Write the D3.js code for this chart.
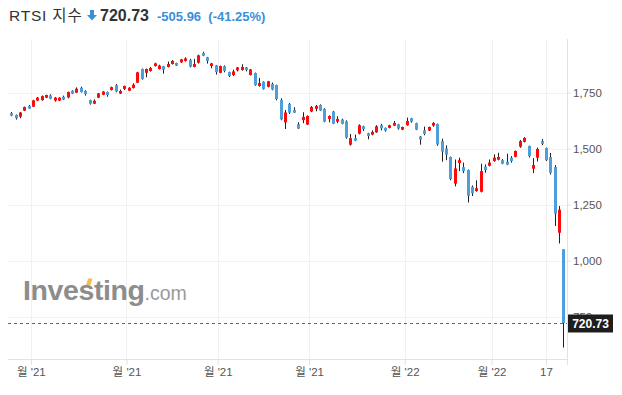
<!DOCTYPE html>
<html lang="ko">
<head>
<meta charset="utf-8">
<title>RTSI 지수</title>
<script src="https://cdn.jsdelivr.net/npm/d3@7"></script>
<style>
  html, body { margin: 0; padding: 0; background: #fff; }
  svg { display: block; font-family: "Liberation Sans", Arial, "Noto Sans CJK KR", sans-serif; }
</style>
</head>
<body>
<svg id="chart" width="622" height="395"></svg>
<script>
// daily candles, Aug 2021 -> 24 Feb 2022
const opens = [
  1658, 1650, 1642, 1669, 1690, 1687, 1714, 1716, 1727, 1737, 1714, 1714, 1731, 1728, 1758, 1749,
  1771, 1757, 1716, 1700, 1727, 1740, 1752, 1761, 1783, 1745, 1766, 1758, 1770, 1794, 1855, 1838,
  1846, 1868, 1855, 1867, 1864, 1877, 1882, 1885, 1891, 1895, 1864, 1883, 1926, 1907, 1868, 1871,
  1838, 1867, 1841, 1828, 1849, 1850, 1862, 1828, 1837, 1779, 1798, 1775, 1788, 1783, 1716, 1617,
  1699, 1672, 1608, 1627, 1607, 1665, 1677, 1694, 1677, 1632, 1665, 1620, 1629, 1621, 1517, 1546,
  1566, 1599, 1568, 1562, 1572, 1604, 1592, 1592, 1602, 1608, 1584, 1604, 1635, 1613, 1553, 1581,
  1580, 1602, 1609, 1533, 1500, 1462, 1343, 1435, 1417, 1404, 1329, 1310, 1307, 1419, 1423, 1444,
  1450, 1448, 1441, 1459, 1463, 1508, 1530, 1511, 1410, 1459, 1533, 1502, 1462, 1417, 1124, 1050
];
const highs = [
  1663, 1652, 1663, 1687, 1694, 1717, 1730, 1737, 1740, 1742, 1730, 1729, 1736, 1754, 1760, 1773,
  1776, 1760, 1718, 1719, 1748, 1756, 1754, 1776, 1788, 1763, 1781, 1774, 1791, 1842, 1857, 1857,
  1864, 1883, 1874, 1869, 1888, 1895, 1883, 1900, 1907, 1900, 1900, 1919, 1932, 1909, 1882, 1873,
  1870, 1871, 1843, 1852, 1864, 1876, 1864, 1855, 1839, 1815, 1800, 1802, 1794, 1785, 1724, 1672,
  1703, 1684, 1617, 1662, 1648, 1690, 1694, 1697, 1680, 1648, 1668, 1644, 1633, 1626, 1565, 1562,
  1608, 1602, 1570, 1581, 1604, 1610, 1594, 1606, 1623, 1610, 1598, 1638, 1637, 1615, 1556, 1598,
  1598, 1618, 1611, 1544, 1514, 1464, 1451, 1459, 1437, 1406, 1335, 1358, 1432, 1429, 1451, 1474,
  1481, 1453, 1477, 1466, 1491, 1538, 1551, 1513, 1457, 1504, 1542, 1504, 1480, 1426, 1243, 1050
];
const lows = [
  1644, 1629, 1635, 1667, 1677, 1685, 1712, 1713, 1725, 1720, 1709, 1712, 1716, 1724, 1743, 1748,
  1750, 1736, 1696, 1698, 1725, 1738, 1731, 1759, 1751, 1743, 1761, 1756, 1768, 1792, 1807, 1818,
  1843, 1866, 1853, 1834, 1862, 1875, 1868, 1882, 1888, 1862, 1862, 1879, 1912, 1879, 1858, 1830,
  1836, 1840, 1819, 1824, 1844, 1848, 1844, 1826, 1780, 1776, 1763, 1773, 1760, 1715, 1626, 1587,
  1654, 1658, 1587, 1613, 1605, 1662, 1666, 1667, 1617, 1617, 1609, 1613, 1608, 1544, 1513, 1533,
  1563, 1578, 1541, 1559, 1570, 1581, 1575, 1590, 1600, 1584, 1582, 1602, 1615, 1582, 1517, 1559,
  1578, 1597, 1512, 1441, 1448, 1358, 1331, 1399, 1390, 1259, 1288, 1307, 1304, 1392, 1420, 1441,
  1447, 1430, 1426, 1437, 1461, 1503, 1527, 1460, 1390, 1442, 1515, 1444, 1384, 1154, 1076, 611
];
const closes = [
  1647, 1635, 1661, 1685, 1678, 1715, 1727, 1734, 1739, 1722, 1727, 1727, 1718, 1752, 1745, 1767,
  1752, 1743, 1700, 1713, 1746, 1754, 1739, 1774, 1755, 1757, 1779, 1771, 1785, 1840, 1810, 1855,
  1859, 1880, 1870, 1852, 1877, 1891, 1870, 1898, 1902, 1865, 1877, 1916, 1914, 1891, 1880, 1841,
  1868, 1846, 1824, 1844, 1862, 1864, 1850, 1853, 1783, 1792, 1766, 1800, 1763, 1721, 1630, 1661,
  1660, 1660, 1589, 1641, 1645, 1685, 1690, 1669, 1620, 1645, 1611, 1632, 1610, 1549, 1546, 1535,
  1604, 1586, 1556, 1574, 1599, 1590, 1580, 1604, 1614, 1589, 1596, 1623, 1620, 1584, 1540, 1565,
  1596, 1614, 1518, 1486, 1472, 1364, 1411, 1448, 1399, 1289, 1300, 1323, 1399, 1404, 1437, 1459,
  1462, 1432, 1428, 1444, 1489, 1533, 1547, 1466, 1426, 1498, 1521, 1448, 1392, 1209, 1226.69, 720.73
];

const priceTicks = [750, 1000, 1250, 1500, 1750];
const dateTickIndex = [4.5, 26.5, 47.5, 68.5, 90.5, 110.5, 123];
const dateTickLabels = ["월 '21", "월 '21", "월 '21", "월 '21", "월 '22", "월 '22", "17"];

const titleName = "RTSI 지수";
const lastPrice = 720.73;
const change = -505.96;
const changePct = -41.25;

const UP = "#ff0a0a";
const DOWN = "#4c9fdb";
const WICK = "#222";
const BLUE_TEXT = "#3a8fd9";

// plain hyphen for negatives, like the source widget
const locale = d3.formatLocale({ decimal: ".", thousands: ",", grouping: [3], currency: ["", ""], minus: "-" });
const fmt2 = locale.format(".2f");
const fmtInt = locale.format(",");

// ── Layout ───────────────────────────────────────────────────────────────────

const plot = { left: 8, right: 567, top: 39, bottom: 359 };
const candles = opens.map((o, i) => ({ i, o, h: highs[i], l: lows[i], c: closes[i] }));

const x = d3.scaleLinear().domain([0, candles.length - 1]).range([11.3, 563.3]);
const y = d3.scaleLinear().domain([750, 1750]).range([316.5, 92.5]);

const svg = d3.select("#chart");

// ── Title ────────────────────────────────────────────────────────────────────

svg.append("text").attr("x", 9).attr("y", 21)
  .attr("font-size", 15.5).attr("letter-spacing", 0.8).attr("fill", "#333")
  .text(titleName);

svg.append("path")
  .attr("d", "M90,10 h4 v5 h3 l-5,5.5 l-5,-5.5 h3 z")
  .attr("fill", BLUE_TEXT);

svg.append("text").attr("x", 100).attr("y", 21)
  .attr("font-size", 16).attr("font-weight", "bold").attr("fill", "#333")
  .text(fmt2(lastPrice));
svg.append("text").attr("x", 157).attr("y", 21)
  .attr("font-size", 13).attr("font-weight", "bold").attr("fill", BLUE_TEXT)
  .attr("xml:space", "preserve")
  .text(`${fmt2(change)}  (${fmt2(changePct)}%)`);

// ── Grid ─────────────────────────────────────────────────────────────────────

svg.append("g").selectAll("line")
  .data(priceTicks)
  .join("line")
  .attr("x1", plot.left).attr("x2", plot.right)
  .attr("y1", (d) => Math.round(y(d)) + 0.5).attr("y2", (d) => Math.round(y(d)) + 0.5)
  .attr("stroke", "#f1f1f1");

svg.append("g").selectAll("line")
  .data(dateTickIndex)
  .join("line")
  .attr("x1", (d) => Math.round(x(d)) + 0.5).attr("x2", (d) => Math.round(x(d)) + 0.5)
  .attr("y1", plot.top).attr("y2", plot.bottom)
  .attr("stroke", "#f1f1f1");

// ── Watermark ────────────────────────────────────────────────────────────────

const logo = svg.append("text").attr("x", 23).attr("y", 300).attr("fill", "#8d8d8d");
logo.append("tspan").attr("font-size", 28.5).attr("font-weight", "bold")
  .attr("letter-spacing", -0.4).text("Investing");
logo.append("tspan").attr("font-size", 19.5).attr("fill", "#9a9a9a").text(".com");
svg.append("path")
  .attr("d", "M86,285 l2,-6.5 h4.5 l-2,6.5 z")
  .attr("fill", "#f6bb55");

// ── Candles ──────────────────────────────────────────────────────────────────

const g = svg.append("g");

g.selectAll("line.wick")
  .data(candles)
  .join("line")
  .attr("class", "wick")
  .attr("x1", (d) => Math.round(x(d.i)) + 0.5).attr("x2", (d) => Math.round(x(d.i)) + 0.5)
  .attr("y1", (d) => y(d.h)).attr("y2", (d) => y(d.l))
  .attr("stroke", WICK).attr("stroke-width", 1);

g.selectAll("rect.body")
  .data(candles)
  .join("rect")
  .attr("class", "body")
  .attr("x", (d) => Math.round(x(d.i)) - 1)
  .attr("width", 3)
  .attr("y", (d) => y(Math.max(d.o, d.c)))
  .attr("height", (d) => Math.max(1, Math.abs(y(d.o) - y(d.c))))
  .attr("fill", (d) => (d.c >= d.o ? UP : DOWN));

// ── Axes ─────────────────────────────────────────────────────────────────────

const xAxis = svg.append("g")
  .attr("transform", `translate(0,${plot.bottom})`)
  .call(d3.axisBottom(x).tickValues(dateTickIndex)
    .tickFormat((d, i) => dateTickLabels[i]).tickSize(6).tickSizeOuter(0));
xAxis.select(".domain").remove();
xAxis.selectAll(".tick line").attr("stroke", "#e2e2e2");
xAxis.selectAll("text").attr("fill", "#555").attr("font-size", 11.5)
  .attr("font-family", "\"Liberation Sans\", Arial, \"Noto Sans CJK KR\", sans-serif");

svg.append("line")
  .attr("x1", plot.left).attr("x2", plot.right)
  .attr("y1", plot.bottom + 0.5).attr("y2", plot.bottom + 0.5)
  .attr("stroke", "#e2e2e2");

svg.append("line")
  .attr("x1", plot.right + 0.5).attr("x2", plot.right + 0.5)
  .attr("y1", plot.top).attr("y2", plot.bottom + 6)
  .attr("stroke", "#e2e2e2");

const yAxis = svg.append("g")
  .attr("transform", `translate(${plot.right},0)`)
  .call(d3.axisRight(y).tickValues(priceTicks).tickFormat(fmtInt).tickSize(4).tickPadding(2));
yAxis.select(".domain").remove();
yAxis.selectAll(".tick line").attr("stroke", "#e2e2e2");
yAxis.selectAll("text").attr("fill", "#555").attr("font-size", 11.5)
  .attr("font-family", "\"Liberation Sans\", Arial, sans-serif");

// ── Last price marker ────────────────────────────────────────────────────────

const yLast = Math.round(y(lastPrice)) + 0.5;
svg.append("line")
  .attr("x1", plot.left).attr("x2", plot.right)
  .attr("y1", yLast).attr("y2", yLast)
  .attr("stroke", "#666").attr("stroke-dasharray", "3,3");

svg.append("rect")
  .attr("x", plot.right + 1).attr("y", yLast - 9)
  .attr("width", 45).attr("height", 18)
  .attr("fill", "#1e1e1e");
svg.append("text")
  .attr("x", plot.right + 23.5).attr("y", yLast + 4.5)
  .attr("text-anchor", "middle")
  .attr("font-size", 12).attr("font-weight", "bold").attr("fill", "#fff")
  .text(fmt2(lastPrice));
</script>
</body>
</html>
